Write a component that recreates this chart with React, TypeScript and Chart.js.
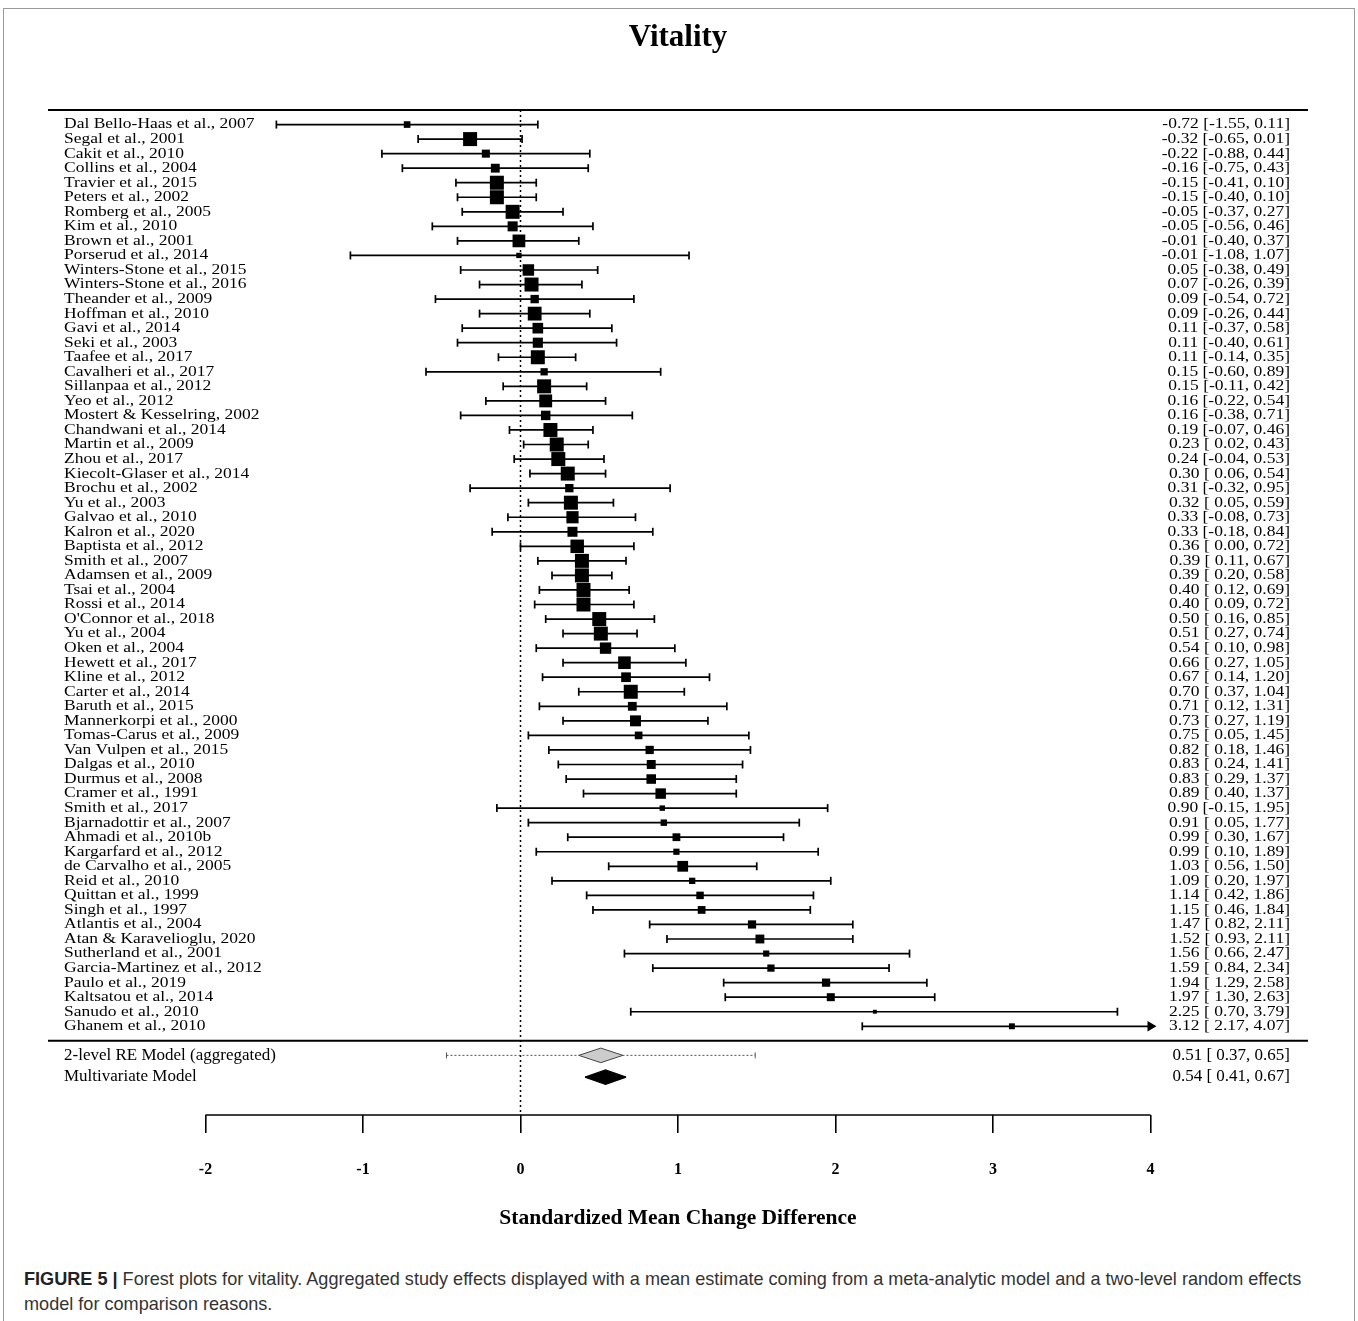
import React, { useEffect, useRef } from 'react';
import { Chart, registerables } from 'chart.js';

Chart.register(...registerables);

const studyLabels = [
  'Dal Bello-Haas et al., 2007', 'Segal et al., 2001', 'Cakit et al., 2010', 'Collins et al., 2004',
  'Travier et al., 2015', 'Peters et al., 2002', 'Romberg et al., 2005', 'Kim et al., 2010',
  'Brown et al., 2001', 'Porserud et al., 2014', 'Winters-Stone et al., 2015', 'Winters-Stone et al., 2016',
  'Theander et al., 2009', 'Hoffman et al., 2010', 'Gavi et al., 2014', 'Seki et al., 2003',
  'Taafee et al., 2017', 'Cavalheri et al., 2017', 'Sillanpaa et al., 2012', 'Yeo et al., 2012',
  'Mostert & Kesselring, 2002', 'Chandwani et al., 2014', 'Martin et al., 2009', 'Zhou et al., 2017',
  'Kiecolt-Glaser et al., 2014', 'Brochu et al., 2002', 'Yu et al., 2003', 'Galvao et al., 2010',
  'Kalron et al., 2020', 'Baptista et al., 2012', 'Smith et al., 2007', 'Adamsen et al., 2009',
  'Tsai et al., 2004', 'Rossi et al., 2014', "O'Connor et al., 2018", 'Yu et al., 2004',
  'Oken et al., 2004', 'Hewett et al., 2017', 'Kline et al., 2012', 'Carter et al., 2014',
  'Baruth et al., 2015', 'Mannerkorpi et al., 2000', 'Tomas-Carus et al., 2009', 'Van Vulpen et al., 2015',
  'Dalgas et al., 2010', 'Durmus et al., 2008', 'Cramer et al., 1991', 'Smith et al., 2017',
  'Bjarnadottir et al., 2007', 'Ahmadi et al., 2010b', 'Kargarfard et al., 2012', 'de Carvalho et al., 2005',
  'Reid et al., 2010', 'Quittan et al., 1999', 'Singh et al., 1997', 'Atlantis et al., 2004',
  'Atan & Karavelioglu, 2020', 'Sutherland et al., 2001', 'Garcia-Martinez et al., 2012', 'Paulo et al., 2019',
  'Kaltsatou et al., 2014', 'Sanudo et al., 2010', 'Ghanem et al., 2010',
];

const estimates = [
  -0.72, -0.32, -0.22, -0.16, -0.15, -0.15, -0.05, -0.05, -0.01, -0.01, 0.05, 0.07,
  0.09, 0.09, 0.11, 0.11, 0.11, 0.15, 0.15, 0.16, 0.16, 0.19, 0.23, 0.24,
  0.30, 0.31, 0.32, 0.33, 0.33, 0.36, 0.39, 0.39, 0.40, 0.40, 0.50, 0.51,
  0.54, 0.66, 0.67, 0.70, 0.71, 0.73, 0.75, 0.82, 0.83, 0.83, 0.89, 0.90,
  0.91, 0.99, 0.99, 1.03, 1.09, 1.14, 1.15, 1.47, 1.52, 1.56, 1.59, 1.94,
  1.97, 2.25, 3.12,
];

const ciLower = [
  -1.55, -0.65, -0.88, -0.75, -0.41, -0.40, -0.37, -0.56, -0.40, -1.08, -0.38, -0.26,
  -0.54, -0.26, -0.37, -0.40, -0.14, -0.60, -0.11, -0.22, -0.38, -0.07, 0.02, -0.04,
  0.06, -0.32, 0.05, -0.08, -0.18, 0.00, 0.11, 0.20, 0.12, 0.09, 0.16, 0.27,
  0.10, 0.27, 0.14, 0.37, 0.12, 0.27, 0.05, 0.18, 0.24, 0.29, 0.40, -0.15,
  0.05, 0.30, 0.10, 0.56, 0.20, 0.42, 0.46, 0.82, 0.93, 0.66, 0.84, 1.29,
  1.30, 0.70, 2.17,
];

const ciUpper = [
  0.11, 0.01, 0.44, 0.43, 0.10, 0.10, 0.27, 0.46, 0.37, 1.07, 0.49, 0.39,
  0.72, 0.44, 0.58, 0.61, 0.35, 0.89, 0.42, 0.54, 0.71, 0.46, 0.43, 0.53,
  0.54, 0.95, 0.59, 0.73, 0.84, 0.72, 0.67, 0.58, 0.69, 0.72, 0.85, 0.74,
  0.98, 1.05, 1.20, 1.04, 1.31, 1.19, 1.45, 1.46, 1.41, 1.37, 1.37, 1.95,
  1.77, 1.67, 1.89, 1.50, 1.97, 1.86, 1.84, 2.11, 2.11, 2.47, 2.34, 2.58,
  2.63, 3.79, 4.07,
];

const modelLabels = ['2-level RE Model (aggregated)', 'Multivariate Model'];
const modelEstimates = [0.51, 0.54];
const modelLower = [0.37, 0.41];
const modelUpper = [0.65, 0.67];
const predictionInterval = [-0.47, 1.49];

const xTicks = [-2, -1, 0, 1, 2, 3, 4];
const chartTitle = 'Vitality';
const xAxisTitle = 'Standardized Mean Change Difference';

const SERIF = '"Liberation Serif", "Times New Roman", Times, serif';

const fmtCI = (v: number) => (v < 0 ? '' : ' ') + v.toFixed(2);
const rowText = (est: number, lo: number, hi: number) =>
  `${est.toFixed(2)} [${fmtCI(lo)}, ${hi.toFixed(2)}]`;

export default function App() {
  const ref = useRef<HTMLCanvasElement>(null);

  useEffect(() => {
    const canvas = ref.current;
    if (!canvas) return;
    const n = studyLabels.length;
    const sepRow = n;
    const modelRows = [n + 1, n + 2.5];
    const yMin = -1;
    const yMax = n + 5.1;
    const aMin = xTicks[0];
    const aMax = xTicks[xTicks.length - 1];
    const diamondHalf = 0.5;

    const side = (i: number) => Math.min(14, 10.2 / Math.pow(ciUpper[i] - ciLower[i], 0.85));

    const squares = estimates.map((e, i) => ({ x: e, y: i }));
    const arrows: { x: number; y: number }[] = [];
    const caps: { x: number; y: number }[] = [];
    const whiskers: { x: number | null; y: number | null }[] = [];
    estimates.forEach((_, i) => {
      const lo = Math.max(ciLower[i], aMin);
      const hi = Math.min(ciUpper[i], aMax);
      whiskers.push({ x: lo, y: i }, { x: hi, y: i }, { x: null, y: null });
      caps.push({ x: lo, y: i });
      if (ciUpper[i] > aMax) arrows.push({ x: aMax, y: i });
      else caps.push({ x: hi, y: i });
    });

    const diamondUpper = (k: number) => [
      { x: modelLower[k], y: modelRows[k] },
      { x: modelEstimates[k], y: modelRows[k] - diamondHalf },
      { x: modelUpper[k], y: modelRows[k] },
    ];
    const diamondLower = (k: number) => [
      { x: modelLower[k], y: modelRows[k] },
      { x: modelEstimates[k], y: modelRows[k] + diamondHalf },
      { x: modelUpper[k], y: modelRows[k] },
    ];

    const textPlugin = {
      id: 'forestText',
      afterDatasetsDraw(chart: any) {
        const { ctx, chartArea, scales } = chart;
        const y = scales.y;
        const leftX = chartArea.left + 16;
        const rightX = chartArea.right - 18;
        const draw = (txt: string, x: number, py: number, align: CanvasTextAlign, sy: number) => {
          ctx.save();
          ctx.translate(x, py);
          ctx.scale(1, sy);
          ctx.textAlign = align;
          ctx.fillText(txt, 0, 0);
          ctx.restore();
        };
        ctx.save();
        ctx.fillStyle = '#000';
        ctx.textBaseline = 'middle';
        ctx.font = `17.5px ${SERIF}`;
        studyLabels.forEach((s, i) => {
          const py = y.getPixelForValue(i);
          draw(s, leftX, py, 'left', 0.85);
          draw(rowText(estimates[i], ciLower[i], ciUpper[i]), rightX, py, 'right', 0.85);
        });
        ctx.font = `17px ${SERIF}`;
        modelLabels.forEach((s, k) => {
          const py = y.getPixelForValue(modelRows[k]);
          draw(s, leftX, py, 'left', 0.95);
          draw(rowText(modelEstimates[k], modelLower[k], modelUpper[k]), rightX, py, 'right', 0.95);
        });
        ctx.restore();
      },
    };

    const chart = new Chart(canvas, {
      type: 'scatter',
      data: {
        datasets: [
          {
            type: 'scatter',
            data: squares,
            pointStyle: 'rect',
            pointRadius: (c: any) => side(c.dataIndex) / Math.SQRT2,
            pointBackgroundColor: '#000',
            pointBorderColor: '#000',
            pointBorderWidth: 0,
          } as any,
          {
            type: 'scatter',
            data: arrows,
            pointStyle: 'triangle',
            pointRotation: 90,
            pointRadius: 6,
            pointBackgroundColor: '#000',
            pointBorderColor: '#000',
            pointBorderWidth: 0,
          } as any,
          {
            type: 'scatter',
            data: caps,
            pointStyle: 'line',
            pointRotation: 90,
            pointRadius: 4,
            pointBorderColor: '#000',
            pointBorderWidth: 1.7,
          } as any,
          {
            type: 'line',
            data: whiskers,
            borderColor: '#000',
            borderWidth: 1.7,
            pointRadius: 0,
            spanGaps: false,
            fill: false,
          } as any,
          {
            type: 'line',
            data: diamondUpper(0),
            borderColor: '#444',
            borderWidth: 1,
            pointRadius: 0,
            fill: false,
          } as any,
          {
            type: 'line',
            data: diamondLower(0),
            borderColor: '#444',
            borderWidth: 1,
            pointRadius: 0,
            fill: '-1',
            backgroundColor: '#cccccc',
          } as any,
          {
            type: 'line',
            data: diamondUpper(1),
            borderColor: '#000',
            borderWidth: 1.2,
            pointRadius: 0,
            fill: false,
          } as any,
          {
            type: 'line',
            data: diamondLower(1),
            borderColor: '#000',
            borderWidth: 1.2,
            pointRadius: 0,
            fill: '-1',
            backgroundColor: '#000',
          } as any,
          {
            type: 'line',
            data: [
              { x: predictionInterval[0], y: modelRows[0] },
              { x: predictionInterval[1], y: modelRows[0] },
            ],
            borderColor: '#555',
            borderWidth: 1,
            borderDash: [2, 2],
            pointRadius: 0,
            fill: false,
          } as any,
          {
            type: 'scatter',
            data: [
              { x: predictionInterval[0], y: modelRows[0] },
              { x: predictionInterval[1], y: modelRows[0] },
            ],
            pointStyle: 'line',
            pointRotation: 90,
            pointRadius: 3,
            pointBorderColor: '#555',
            pointBorderWidth: 1,
          } as any,
          {
            type: 'line',
            data: [{ x: -3, y: yMin }, { x: 5, y: yMin }],
            borderColor: '#000',
            borderWidth: 2,
            pointRadius: 0,
            clip: false,
            fill: false,
          } as any,
          {
            type: 'line',
            data: [{ x: -3, y: sepRow }, { x: 5, y: sepRow }],
            borderColor: '#000',
            borderWidth: 2,
            pointRadius: 0,
            clip: false,
            fill: false,
          } as any,
          {
            type: 'line',
            data: [{ x: aMin, y: yMax }, { x: aMax, y: yMax }],
            borderColor: '#000',
            borderWidth: 1.6,
            pointRadius: 0,
            clip: false,
            fill: false,
          } as any,
          {
            type: 'line',
            data: [{ x: 0, y: yMin }, { x: 0, y: yMax }],
            borderColor: '#000',
            borderWidth: 1.5,
            borderDash: [2, 3],
            pointRadius: 0,
            fill: false,
          } as any,
        ],
      },
      options: {
        responsive: false,
        animation: false,
        events: [],
        layout: { padding: { left: 48, right: 50, top: 0, bottom: 9 } },
        plugins: {
          legend: { display: false },
          tooltip: { enabled: false },
          title: {
            display: true,
            text: chartTitle,
            color: '#000',
            font: { family: SERIF, size: 31, weight: 'bold', lineHeight: 1.2 },
            padding: { top: 19.4, bottom: 53.4 },
          },
        },
        scales: {
          x: {
            type: 'linear',
            min: -3,
            max: 5,
            position: 'bottom',
            border: { display: false },
            grid: {
              display: true,
              drawOnChartArea: false,
              drawTicks: true,
              tickLength: 18,
              color: '#000',
              lineWidth: 1.6,
            },
            ticks: {
              autoSkip: false,
              maxRotation: 0,
              padding: 27,
              color: '#000',
              font: { family: SERIF, size: 16, weight: 'bold' },
              callback: (v: any) => String(v),
            },
            afterBuildTicks: (scale: any) => {
              scale.ticks = xTicks.map((v) => ({ value: v }));
            },
            afterFit: (scale: any) => {
              scale.height = 116;
            },
            title: {
              display: true,
              text: xAxisTitle,
              color: '#000',
              font: { family: SERIF, size: 21.5, weight: 'bold', lineHeight: 1.2 },
              padding: 0,
            },
          },
          y: {
            type: 'linear',
            reverse: true,
            min: yMin,
            max: yMax,
            display: false,
          },
        },
      } as any,
      plugins: [textPlugin],
    });

    return () => chart.destroy();
  }, []);

  return (
    <div>
      <div
        style={{
          position: 'absolute',
          left: 3,
          top: 8,
          width: 1352,
          height: 1313,
          border: '1px solid #9a9a9a',
          borderBottom: 'none',
          boxSizing: 'border-box',
        }}
      />
      <canvas
        ref={ref}
        width={1358}
        height={1240}
        style={{ position: 'absolute', left: 0, top: 0, width: 1358, height: 1240 }}
      />
      <div
        style={{
          position: 'absolute',
          left: 24,
          top: 1267,
          fontFamily: '"Liberation Sans", Arial, Helvetica, sans-serif',
          fontSize: 18.1,
          lineHeight: '25px',
          color: '#333',
          whiteSpace: 'nowrap',
        }}
      >
        <b style={{ color: '#222' }}>FIGURE 5 |</b> Forest plots for vitality. Aggregated study effects displayed with a
        mean estimate coming from a meta-analytic model and a two-level random effects
        <br />
        model for comparison reasons.
      </div>
    </div>
  );
}
